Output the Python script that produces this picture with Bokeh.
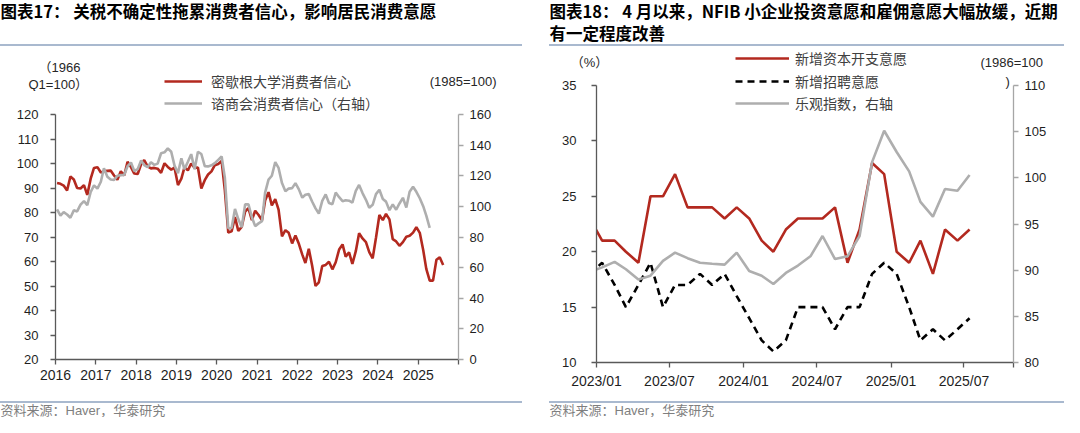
import pandas as pd
from datetime import datetime
from bokeh.plotting import figure
from bokeh.models import (Range1d, LinearAxis, FixedTicker, DatetimeTickFormatter,
                          Legend, Label, Div, Spacer)
from bokeh.layouts import row, column
from bokeh.embed import file_html
from bokeh.resources import INLINE

# ---------------- data ----------------
# Chart 17: monthly, Michigan from 2016-01, Conference Board from 2016-01
michigan = [92.0, 91.7, 91.0, 89.0, 94.7, 93.5, 90.0, 89.8, 91.2, 87.2, 93.8, 98.2,
            98.5, 96.3, 96.9, 97.0, 97.1, 95.1, 93.4, 96.8, 95.1, 100.7, 98.5, 95.9,
            95.7, 99.7, 101.4, 98.8, 98.0, 98.2, 97.9, 96.2, 100.1, 98.6, 97.5, 98.3,
            91.2, 93.8, 98.4, 97.2, 100.0, 98.2, 98.4, 89.8, 93.2, 95.5, 96.8, 99.3,
            99.8, 101.0, 89.1, 71.8, 72.3, 78.1, 72.5, 74.1, 80.4, 81.8, 76.9, 80.7,
            79.0, 76.8, 84.9, 88.3, 82.9, 85.5, 81.2, 70.3, 72.8, 71.7, 67.4, 70.6,
            67.2, 62.8, 59.4, 65.2, 58.4, 50.0, 51.5, 58.2, 58.6, 59.9, 56.8, 59.7,
            64.9, 67.0, 62.0, 63.7, 59.0, 64.2, 71.5, 69.4, 67.9, 63.8, 61.3, 69.7,
            79.0, 76.9, 79.4, 77.2, 69.1, 68.2, 66.4, 67.9, 70.1, 70.5, 71.8, 74.0,
            71.7, 64.7, 57.0, 52.2, 52.2, 60.7, 61.7, 58.6]
conference = [98.1, 94.0, 96.2, 94.7, 92.6, 97.4, 96.7, 101.1, 103.5, 100.8, 109.4, 113.7,
              111.6, 116.1, 124.9, 119.4, 117.6, 117.3, 120.0, 120.4, 120.6, 126.2, 128.6, 123.1,
              124.3, 130.0, 127.0, 125.6, 128.8, 127.1, 127.9, 134.7, 135.3, 137.9, 135.7, 126.6,
              121.7, 131.4, 124.2, 129.2, 134.1, 124.3, 135.7, 134.2, 126.3, 126.1, 126.8, 128.2,
              130.4, 132.6, 118.8, 85.7, 85.9, 98.3, 91.7, 86.3, 101.3, 101.4, 92.9, 87.1,
              88.9, 90.4, 109.0, 117.5, 120.0, 128.9, 125.1, 115.2, 109.8, 111.6, 111.9, 115.2,
              111.1, 105.7, 107.6, 108.0, 103.2, 98.7, 95.3, 103.6, 107.8, 102.2, 101.4, 109.0,
              106.0, 103.4, 104.0, 103.7, 102.5, 110.1, 114.0, 108.7, 104.3, 99.1, 101.0, 108.0,
              110.9, 104.8, 103.1, 97.5, 101.3, 97.8, 101.9, 105.6, 99.2, 109.6, 112.8, 109.5,
              105.3, 100.1, 93.9, 86.0]
left_years = list(range(2016, 2026))

# Chart 18: monthly from 2022-12 to 2025-07
capex = [23,
         21, 21, 20, 19, 25, 25, 27, 24, 24, 24, 23, 24,
         23, 21, 20, 22, 23, 23, 23, 24, 19, 22, 28, 27,
         20, 19, 21, 18, 22, 21, 22]
hiring = [18,
          19, 17, 15, 17, 19, 15, 17, 17, 18, 17, 18, 16,
          14, 12, 11, 12, 15, 15, 15, 13, 15, 15, 18, 19,
          18, 15, 12, 13, 12, 13, 14]
optimism = [89.8,
            90.3, 90.9, 90.1, 89.0, 89.4, 91.0, 91.9, 91.3, 90.8, 90.7, 90.6, 91.9,
            89.9, 89.4, 88.5, 89.7, 90.5, 91.5, 93.7, 91.2, 91.5, 93.7, 101.7, 105.1,
            102.8, 100.7, 97.4, 95.8, 98.8, 98.6, 100.3]
right_ticks = ["2023-01-01", "2023-07-01", "2024-01-01", "2024-07-01", "2025-01-01", "2025-07-01"]

title17 = "图表17：  关税不确定性拖累消费者信心，影响居民消费意愿"
title18a = "图表18：  4 月以来，NFIB 小企业投资意愿和雇佣意愿大幅放缓，近期"
title18b = "有一定程度改善"
source_txt = "资料来源：Haver，华泰研究"
legend17 = ["密歇根大学消费者信心", "谘商会消费者信心（右轴）"]
legend18 = ["新增资本开支意愿", "新增招聘意愿", "乐观指数，右轴"]

# ---------------- style ----------------
RED = "#B3291F"
GRAY = "#AEAEAE"
SEP = "#A9B9CF"
DARK = "#595959"
LIGHT_AX = "#A6A6A6"
F_NUM = "Liberation Sans"
F_CJK = "Noto Sans CJK SC"
F_MIX = "Liberation Sans, Noto Sans CJK SC"
LW = 2.6
NAN = [float("nan")]


def ms(s):
    return pd.Timestamp(s).value // 10**6


def style_axis(ax, standoff, line_color, size="13px"):
    ax.axis_line_color = line_color
    ax.axis_line_width = 1.3
    ax.major_tick_line_color = line_color
    ax.major_tick_line_width = 1.3
    ax.minor_tick_line_color = line_color
    ax.minor_tick_line_width = 1.3
    ax.major_tick_in = 0
    ax.major_tick_out = 5
    ax.minor_tick_in = 0
    ax.minor_tick_out = 5
    ax.major_label_text_font = F_NUM
    ax.major_label_text_font_size = size
    ax.major_label_text_color = "#1F1F1F"
    ax.major_label_standoff = standoff


def date_fmt(fmt):
    return DatetimeTickFormatter(microseconds=fmt, milliseconds=fmt, seconds=fmt, minsec=fmt,
                                 minutes=fmt, hourmin=fmt, hours=fmt, days=fmt, months=fmt,
                                 years=fmt, strip_leading_zeros=False)


def text_fig(w, h):
    f = figure(width=w, height=h, x_range=Range1d(0, 1), y_range=Range1d(0, 1),
               toolbar_location=None, output_backend="svg", title=None,
               min_border=0, min_border_left=0, min_border_right=0,
               min_border_top=0, min_border_bottom=0, frame_align=False,
               x_axis_location=None, y_axis_location=None, outline_line_color=None)
    f.grid.visible = False
    return f


def sep(w):
    return Div(text="", width=w, height=2, margin=0,
               styles={"background-color": SEP})


def lab(p, x, y, text, align="left", font=F_MIX, size="13px", color="#262626", style="normal"):
    p.add_layout(Label(x=x, y=y, x_units="screen", y_units="screen", text=text,
                       text_font=font, text_font_size=size, text_color=color,
                       text_font_style=style, text_align=align, text_baseline="middle"))


def make_legend(items, loc, gw, ih, standoff):
    return Legend(items=items, location=loc, orientation="vertical", glyph_width=gw,
                  glyph_height=ih, label_height=ih, label_standoff=standoff, spacing=0,
                  padding=0, margin=0, border_line_color=None, background_fill_alpha=0,
                  label_text_font=F_CJK, label_text_font_size="14px",
                  label_text_color="#404040")


TITLE_SIZE = "16.5px"
HEAD_H = 44

# ======================= left panel =======================
W1 = 522
left_dates = pd.date_range("2016-01-01", periods=len(michigan), freq="MS") + pd.Timedelta(days=14)
cb_dates = left_dates[:len(conference)]

h1 = text_fig(W1, HEAD_H)
lab(h1, 0, 34, title17, font=F_CJK, size=TITLE_SIZE, color="#000000", style="bold")

# unit labels + first legend row (page y 54..99)
t1 = text_fig(W1, 45)
lab(t1, 38, 24, "（1966")
lab(t1, 28, 7, "Q1=100）")
lab(t1, 496, 10, "(1985=100)", "right")
k_red = t1.line(x=NAN, y=NAN, line_color=RED, line_width=LW)
t1.add_layout(make_legend([(legend17[0], [k_red])], (164, 0), 38, 16, 9))

# main plot: frame from page y 99 to 367, axis lines bounded to the value scales
FR1_H = 268
AX1_H = 245
y1_top = 120 + (FR1_H - AX1_H) * 100 / AX1_H
y1r_top = 160 + (FR1_H - AX1_H) * 160 / AX1_H
p1 = figure(width=W1, height=310, x_axis_type="datetime", title=None,
            x_range=Range1d(datetime(2016, 1, 1), datetime(2026, 1, 1)),
            y_range=Range1d(20, y1_top), frame_align=False,
            min_border_left=55, min_border_right=64, min_border_top=0, min_border_bottom=42,
            toolbar_location=None, output_backend="svg", outline_line_color=None)
p1.grid.visible = False
p1.extra_y_ranges = {"cb": Range1d(0, y1r_top)}
p1.add_layout(LinearAxis(y_range_name="cb"), "right")
p1.xaxis.ticker = FixedTicker(ticks=[ms(f"{y}-01-01") for y in left_years],
                              minor_ticks=[ms("2026-01-01")])
p1.xaxis.formatter = date_fmt("%Y")
p1.yaxis[0].ticker = FixedTicker(ticks=list(range(20, 121, 10)))
p1.yaxis[0].bounds = (20, 120)
p1.yaxis[1].ticker = FixedTicker(ticks=list(range(0, 161, 20)))
p1.yaxis[1].bounds = (0, 160)
style_axis(p1.xaxis[0], 5, DARK, "14px")
style_axis(p1.yaxis[0], 12, DARK)
style_axis(p1.yaxis[1], 6, LIGHT_AX)
p1.line(left_dates, michigan, line_color=RED, line_width=LW)
r_cb = p1.line(cb_dates, conference, y_range_name="cb", line_color=GRAY, line_width=LW)
p1.add_layout(make_legend([(legend17[1], [r_cb])], (109, 246), 38, 20, 9))

f1 = text_fig(W1, 14)
lab(f1, 0, 7, source_txt, color="#7F7F7F")

col1 = column(h1, sep(W1), t1, p1, sep(W1), f1, spacing=0)

# ======================= right panel =======================
W2 = 515
right_dates = pd.date_range("2022-12-01", periods=len(capex), freq="MS") + pd.Timedelta(days=14)

h2 = text_fig(W2, HEAD_H)
lab(h2, 0, 34, title18a, font=F_CJK, size=TITLE_SIZE, color="#000000", style="bold")
lab(h2, 0, 12, title18b, font=F_CJK, size=TITLE_SIZE, color="#000000", style="bold")

# unit labels + first legend row (page y 54..78)
t2 = text_fig(W2, 24)
lab(t2, 40, 8, "（%）", "center")
lab(t2, 431, 8, "(1986=100")
k_cap = t2.line(x=NAN, y=NAN, line_color=RED, line_width=LW)
t2.add_layout(make_legend([(legend18[0], [k_cap])], (186, 1), 54, 22, 6))

# main plot: frame from page y 78 to 370; axis lines bounded to the value scales
FR_H = 292
AX_H = 277
y_top = 35 + (FR_H - AX_H) * 25 / AX_H
yr_top = 110 + (FR_H - AX_H) * 30 / AX_H
p2 = figure(width=W2, height=331, x_axis_type="datetime", title=None,
            x_range=Range1d(datetime(2023, 1, 1), datetime(2025, 11, 1)),
            y_range=Range1d(10, y_top), frame_align=False,
            min_border_left=47, min_border_right=51, min_border_top=0, min_border_bottom=39,
            toolbar_location=None, output_backend="svg", outline_line_color=None)
p2.grid.visible = False
p2.extra_y_ranges = {"opt": Range1d(80, yr_top)}
p2.add_layout(LinearAxis(y_range_name="opt"), "right")
p2.xaxis.ticker = FixedTicker(ticks=[ms(t) for t in right_ticks], minor_ticks=[ms("2025-11-01")])
p2.xaxis.formatter = date_fmt("%Y/%m")
p2.yaxis[0].ticker = FixedTicker(ticks=list(range(10, 36, 5)))
p2.yaxis[0].bounds = (10, 35)
p2.yaxis[1].ticker = FixedTicker(ticks=list(range(80, 111, 5)))
p2.yaxis[1].bounds = (80, 110)
style_axis(p2.xaxis[0], 5, DARK, "14px")
style_axis(p2.yaxis[0], 15, DARK)
style_axis(p2.yaxis[1], 6, LIGHT_AX)

r_cap = p2.line(right_dates, capex, line_color=RED, line_width=LW)
r_hir = p2.line(right_dates, hiring, line_color="#000000", line_width=LW, line_dash="7 5")
r_opt = p2.line(right_dates, optimism, y_range_name="opt", line_color=GRAY, line_width=LW)
p2.add_layout(make_legend([(legend18[1], [r_hir]), (legend18[2], [r_opt])],
                          (139, 248), 54, 22, 6))
lab(p2, 409, 281, ")")

f2 = text_fig(W2, 14)
lab(f2, 0, 7, source_txt, color="#7F7F7F")

col2 = column(h2, sep(W2), t2, p2, sep(W2), f2, spacing=0)

layout = row(col1, Spacer(width=27, height=10), col2, spacing=0)

open("out.html", "w").write(file_html(layout, INLINE))
